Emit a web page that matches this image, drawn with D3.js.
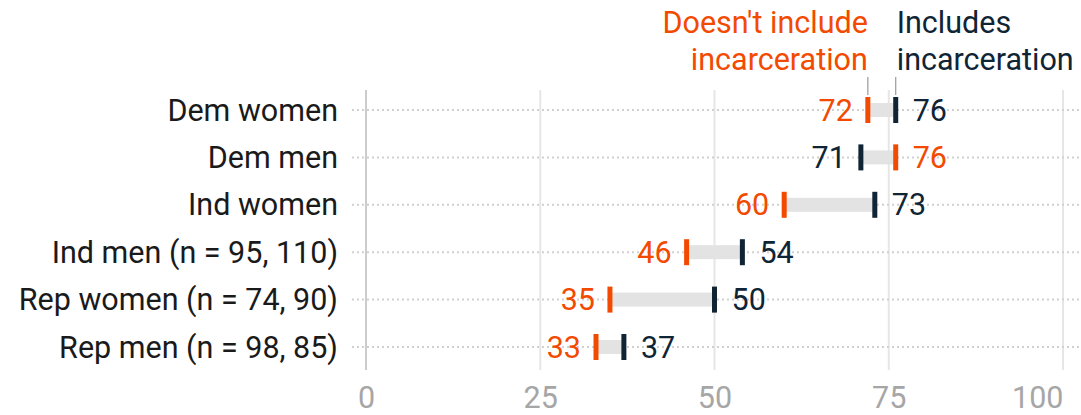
<!DOCTYPE html>
<html>
<head>
<meta charset="utf-8">
<script src="https://cdn.jsdelivr.net/npm/d3@7"></script>
<style>
  html, body { margin: 0; padding: 0; background: #fff; }
  svg { display: block; font-family: Roboto, "Noto Sans", sans-serif; }
</style>
</head>
<body>
<svg id="chart" width="1081" height="415"></svg>
<script>
const categories = ["Dem women", "Dem men", "Ind women", "Ind men (n = 95, 110)", "Rep women (n = 74, 90)", "Rep men (n = 98, 85)"];
const excludesIncarceration = [72, 76, 60, 46, 35, 33];
const includesIncarceration = [76, 71, 73, 54, 50, 37];
const xTicks = [0, 25, 50, 75, 100];
const legendExcl = ["Doesn't include", "incarceration"];
const legendIncl = ["Includes", "incarceration"];

const ORANGE = "#f24a00";
const NAVY = "#0f2536";
const FS = "30.5px";
const svg = d3.select("#chart");

const x = d3.scaleLinear().domain([0, 100]).range([366, 1063]);
const y = d3.scalePoint().domain(categories).range([110, 347]);

// vertical gridlines
svg.append("g").selectAll("line").data(xTicks).join("line")
  .attr("x1", d => x(d)).attr("x2", d => x(d))
  .attr("y1", 90).attr("y2", 370)
  .attr("stroke", d => d === 0 ? "#cccccc" : "#e6e6e6")
  .attr("stroke-width", 2);

// horizontal dotted row lines
svg.append("g").selectAll("line").data(categories).join("line")
  .attr("x1", 352).attr("x2", 1081)
  .attr("y1", d => y(d)).attr("y2", d => y(d))
  .attr("stroke", "#d0d0d0").attr("stroke-width", 2)
  .attr("stroke-dasharray", "2,3");

// tick labels via axis
const axis = d3.axisBottom(x).tickValues(xTicks).tickSize(0).tickPadding(0);
const ag = svg.append("g").attr("transform", "translate(0,408)").call(axis);
ag.select(".domain").remove();
ag.selectAll("text")
  .attr("fill", "#a6a6a6").style("font-size", FS)
  .style("font-family", "Roboto, sans-serif")
  .attr("dy", "0")
  .attr("y", 0)
  .attr("text-anchor", d => d === 100 ? "end" : "middle");

// category labels
svg.append("g").selectAll("text").data(categories).join("text")
  .attr("x", 338).attr("y", d => y(d))
  .attr("dy", "0.35em")
  .attr("text-anchor", "end")
  .attr("fill", "#1a1a1a")
  .style("font-size", FS)
  .text(d => d);

const rows = categories.map((c, i) => ({ c, a: excludesIncarceration[i], b: includesIncarceration[i] }));

// gray band
svg.append("g").selectAll("rect").data(rows).join("rect")
  .attr("x", d => x(Math.min(d.a, d.b)))
  .attr("width", d => Math.abs(x(d.b) - x(d.a)))
  .attr("y", d => y(d.c) - 7).attr("height", 14)
  .attr("fill", "#e3e3e3");

// markers
const mk = svg.append("g");
rows.forEach(d => {
  [[d.a, ORANGE], [d.b, NAVY]].forEach(([v, col]) => {
    mk.append("rect")
      .attr("x", x(v) - 2.5).attr("width", 5)
      .attr("y", y(d.c) - 13).attr("height", 26)
      .attr("fill", col);
  });
});

// value labels
const lg = svg.append("g").style("font-size", FS);
rows.forEach(d => {
  const lowIsA = d.a <= d.b;
  const low = lowIsA ? [d.a, ORANGE] : [d.b, NAVY];
  const high = lowIsA ? [d.b, NAVY] : [d.a, ORANGE];
  lg.append("text").attr("x", x(low[0]) - 15).attr("y", y(d.c)).attr("dy", "0.35em")
    .attr("text-anchor", "end").attr("fill", low[1]).text(low[0]);
  lg.append("text").attr("x", x(high[0]) + 17).attr("y", y(d.c)).attr("dy", "0.35em")
    .attr("text-anchor", "start").attr("fill", high[1]).text(high[0]);
});

// legend leaders
const r0 = rows[0];
svg.append("line").attr("x1", x(r0.a)).attr("x2", x(r0.a)).attr("y1", 77).attr("y2", 95)
  .attr("stroke", "#999").attr("stroke-width", 1.2);
svg.append("line").attr("x1", x(r0.b)).attr("x2", x(r0.b)).attr("y1", 77).attr("y2", 95)
  .attr("stroke", "#999").attr("stroke-width", 1.2);

// legend text
const lt1 = svg.append("text").attr("text-anchor", "end").attr("fill", ORANGE).style("font-size", FS);
legendExcl.forEach((t, i) => lt1.append("tspan").attr("x", x(r0.a)).attr("y", 33 + i * 37).text(t));
const lt2 = svg.append("text").attr("text-anchor", "start").attr("fill", NAVY).style("font-size", FS);
legendIncl.forEach((t, i) => lt2.append("tspan").attr("x", x(r0.b) + 1).attr("y", 33 + i * 37).text(t));
</script>
</body>
</html>
